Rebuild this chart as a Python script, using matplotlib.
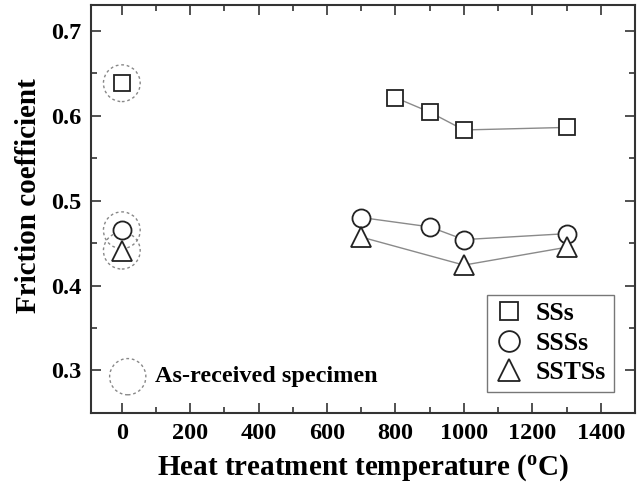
import matplotlib
matplotlib.use("Agg")
import matplotlib.pyplot as plt
from matplotlib.ticker import MultipleLocator

plt.rcParams['font.family'] = ['Liberation Serif', 'DejaVu Serif']
plt.rcParams['font.weight'] = 'bold'
plt.rcParams['mathtext.fontset'] = 'custom'
plt.rcParams['mathtext.rm'] = 'Liberation Serif:bold'
plt.rcParams['mathtext.bf'] = 'Liberation Serif:bold'

# As-received specimens (temperature 0)
asrec_x = [0]
ss_asrec = [0.638]
sss_asrec = [0.465]
ssts_asrec = [0.441]

# Heat treated
ss_temp = [800, 900, 1000, 1300]
ss_val = [0.621, 0.604, 0.583, 0.586]
sss_temp = [700, 900, 1000, 1300]
sss_val = [0.480, 0.469, 0.454, 0.461]
ssts_temp = [700, 1000, 1300]
ssts_val = [0.457, 0.424, 0.445]

labels = ['SSs', 'SSSs', 'SSTSs']
x_ticks = [0, 200, 400, 600, 800, 1000, 1200, 1400]
y_ticks = [0.3, 0.4, 0.5, 0.6, 0.7]

fig = plt.figure(figsize=(6.41, 4.88), dpi=100)
ax = fig.add_axes([0.142, 0.1537, 0.8486, 0.836])

line_kw = dict(color='#8a8a8a', lw=1.0, zorder=1)
mk_kw = dict(mfc='white', mec='#222222', mew=1.3, ls='none', zorder=3)

ax.plot(ss_temp, ss_val, **line_kw)
ax.plot(sss_temp, sss_val, **line_kw)
ax.plot(ssts_temp, ssts_val, **line_kw)

h1, = ax.plot(ss_temp, ss_val, marker='s', ms=11, **mk_kw)
h2, = ax.plot(sss_temp, sss_val, marker='o', ms=13, **mk_kw)
h3, = ax.plot(ssts_temp, ssts_val, marker='^', ms=14, **mk_kw)
ax.plot(asrec_x, ss_asrec, marker='s', ms=11, **mk_kw)
ax.plot(asrec_x, sss_asrec, marker='o', ms=13, **mk_kw)
ax.plot(asrec_x, ssts_asrec, marker='^', ms=14, **mk_kw)

# dotted highlight circles around as-received points
for vals in (ss_asrec, sss_asrec, ssts_asrec):
    ax.scatter(asrec_x, vals, s=700, facecolors='none', edgecolors='#888888',
               linewidths=1.0, linestyles=(0, (2, 2)), zorder=2)

# annotation key
ax.scatter([0.0675], [0.089], s=680, facecolors='none', edgecolors='#888888',
           linewidths=1.0, linestyles=(0, (2, 2)), transform=ax.transAxes,
           zorder=2, clip_on=False)
ax.text(0.118, 0.089, 'As-received specimen', transform=ax.transAxes,
        fontsize=17.5, fontweight='bold', va='center', ha='left')

ax.set_xlim(-90, 1500)
ax.set_ylim(0.25, 0.73)
ax.set_xticks(x_ticks)
ax.set_yticks(y_ticks)
ax.set_xticklabels([str(t) for t in x_ticks])
ax.set_yticklabels([f'{t:.1f}' for t in y_ticks])
ax.xaxis.set_minor_locator(MultipleLocator(100))
ax.yaxis.set_minor_locator(MultipleLocator(0.05))
ax.tick_params(which='both', direction='in', top=True, right=True,
               labeltop=False, labelright=False, color='#333333', width=1.2)
ax.tick_params(which='major', length=7, labelsize=17.5, pad=7)
ax.tick_params(which='minor', length=4)
for lab in ax.get_xticklabels() + ax.get_yticklabels():
    lab.set_fontweight('bold')
for sp in ax.spines.values():
    sp.set_color('#333333')
    sp.set_linewidth(1.5)

ax.set_xlabel(r'Heat treatment temperature ($\mathregular{^o}$C)',
              fontsize=21, fontweight='bold', labelpad=6)
ax.set_ylabel('Friction coefficient', fontsize=21, fontweight='bold')
ax.yaxis.set_label_coords(-0.090, 0.532)

leg = ax.legend([h1, h2, h3], labels, loc='lower right',
                bbox_to_anchor=(0.961, 0.0515), frameon=True,
                fancybox=False, edgecolor='#777777', framealpha=1,
                handlelength=1.1, handletextpad=0.5, borderpad=0.3,
                labelspacing=0.25, borderaxespad=0, markerscale=1.15,
                prop={'weight': 'bold', 'size': 18.5})
leg.get_frame().set_linewidth(1.0)

fig.savefig('out.png', dpi=100)
